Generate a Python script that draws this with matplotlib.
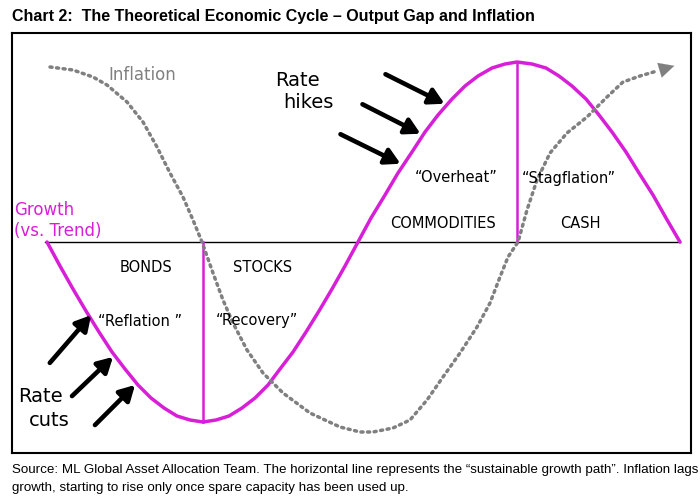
import matplotlib.pyplot as plt
import numpy as np

# Growth vs trend (output gap), x along the cycle
growth_x = [47, 60, 73, 86, 99, 112, 125, 138, 151, 164, 177, 190, 203,
            216, 229, 242, 255, 268, 280, 293, 306, 319, 332, 345, 358,
            371, 385, 398, 412, 425, 438, 452, 465, 478, 492, 505, 517,
            532, 546, 559, 572, 586, 599, 612, 626, 639, 653, 666, 680]
growth_y = [0, -24, -47, -69, -90, -110, -127, -143, -156, -166, -174, -178, -180,
            -178, -174, -166, -156, -143, -127, -110, -90, -69, -47, -24, 0,
            24, 47, 69, 90, 110, 127, 143, 156, 166, 174, 178, 180,
            178, 174, 166, 156, 143, 127, 110, 90, 69, 47, 24, 0]

# Inflation (dotted)
infl_x = [50, 73, 93, 107, 127, 143, 157, 170, 183, 193, 202, 213, 223, 233, 247,
          263, 283, 310, 340, 360, 373, 393, 410, 427, 443, 460, 477, 490, 500,
          508, 518, 527, 537, 550, 567, 587, 607, 623, 640, 657]
infl_y = [175, 172, 165, 157, 140, 120, 95, 69, 45, 22, 0, -31, -58, -81, -108,
          -131, -151, -171, -185, -190, -190, -186, -178, -158, -135, -111, -85, -61, -35,
          -15, 0, 32, 62, 89, 109, 125, 145, 160, 166, 171]
infl_tip = (677, 177)

# phase boundaries
trough_x, peak_x = 203, 517
trend_start, trend_end = 45, 680

# rate arrows: (from, to)
cut_arrows = [((48, -123), (93, -71)), ((70, -156), (115, -113)), ((93, -185), (137, -141))]
hike_arrows = [((383, 169), (447, 137)), ((360, 139), (423, 107)), ((338, 109), (403, 77))]

phase_labels = [("BONDS", 146, -26), ("STOCKS", 263, -26), ("COMMODITIES", 443, 18), ("CASH", 580, 18)]
regime_labels = [("\u201cReflation \u201d", 140, -79), ("\u201cRecovery\u201d", 257, -79),
                 ("\u201cOverheat\u201d", 456, 64), ("\u201cStagflation\u201d", 569, 64)]

magenta = '#d81fd8'
grey = '#808080'

fig = plt.figure(figsize=(7, 5.03), dpi=100)
ax = fig.add_axes([12 / 700, 50 / 503, 679 / 700, 420 / 503])
ax.set_xlim(12, 691)
ax.set_ylim(-211, 209)
ax.set_xticks([])
ax.set_yticks([])
for s in ax.spines.values():
    s.set_linewidth(1.5)

ax.plot([trend_start, trend_end], [0, 0], color='black', lw=1)
ax.plot(growth_x, growth_y, color=magenta, lw=2.5, solid_capstyle='round', solid_joinstyle='round')
ax.plot([trough_x, trough_x], [0, min(growth_y)], color=magenta, lw=1.8)
ax.plot([peak_x, peak_x], [0, max(growth_y)], color=magenta, lw=1.8)

ax.plot(infl_x, infl_y, color=grey, lw=2.5, linestyle=(0, (0.6, 1.3)), dash_capstyle='round')
ax.annotate('', xy=infl_tip, xytext=(infl_x[-1], infl_y[-1]),
            arrowprops=dict(arrowstyle='-|>,head_length=1.1,head_width=0.55', color=grey, lw=0.1))

for (x0, y0), (x1, y1) in cut_arrows + hike_arrows:
    ax.annotate('', xy=(x1, y1), xytext=(x0, y0),
                arrowprops=dict(arrowstyle='-|>,head_length=0.9,head_width=0.5', color='black', lw=3.3))

ax.text(275, 162, "Rate", fontsize=14, va='center', ha='left')
ax.text(283, 140, "hikes", fontsize=14, va='center', ha='left')
ax.text(18, -155, "Rate", fontsize=14, va='center', ha='left')
ax.text(29, -178, "cuts", fontsize=14, va='center', ha='left')
ax.text(14, 32, "Growth", fontsize=12, color=magenta, va='center', ha='left')
ax.text(14, 11, "(vs. Trend)", fontsize=12, color=magenta, va='center', ha='left')
ax.text(108, 167, "Inflation", fontsize=12, color=grey, va='center', ha='left')

for txt, x, y in phase_labels + regime_labels:
    ax.text(x, y, txt, fontsize=10.5, ha='center', va='center')

narrow = ['Liberation Sans Narrow', 'Liberation Sans', 'DejaVu Sans']
fig.text(12 / 700, 1 - 17 / 503, "Chart 2:  The Theoretical Economic Cycle \u2013 Output Gap and Inflation",
         fontsize=11.5, fontweight='bold', family=narrow, va='center', ha='left')
fig.text(12 / 700, 1 - 470 / 503,
         "Source: ML Global Asset Allocation Team. The horizontal line represents the \u201csustainable growth path\u201d. Inflation lags",
         fontsize=9.6, family=narrow, va='center', ha='left')
fig.text(12 / 700, 1 - 488 / 503,
         "growth, starting to rise only once spare capacity has been used up.",
         fontsize=9.6, family=narrow, va='center', ha='left')

fig.savefig('out.png', dpi=100)
